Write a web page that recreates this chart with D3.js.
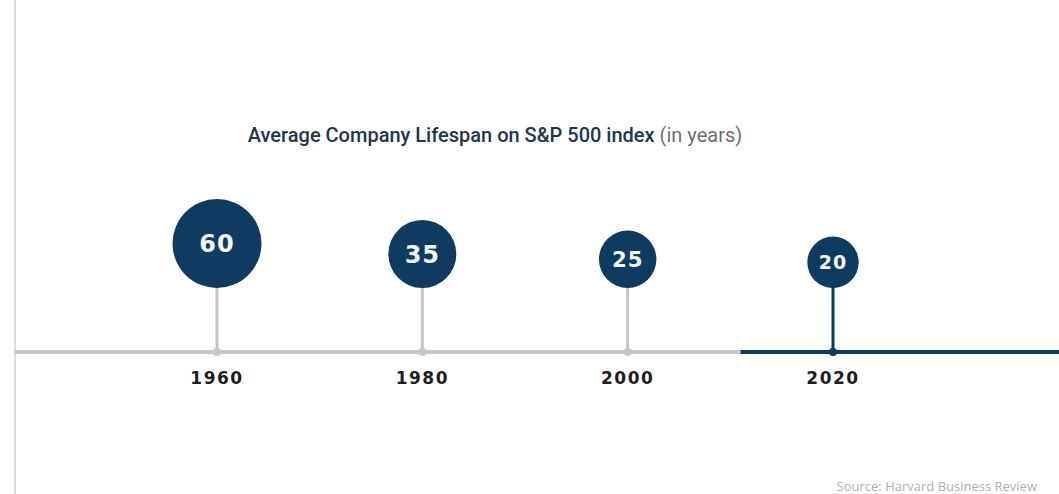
<!DOCTYPE html>
<html>
<head>
<meta charset="utf-8">
<script src="https://cdn.jsdelivr.net/npm/d3@7"></script>
<style>
  body { margin: 0; background: #fff; }
  svg { display: block; }
</style>
</head>
<body>
<script>
(function(){

//chart data
var years = [1960, 1980, 2000, 2020];
var lifespans = [60, 35, 25, 20];
var highlightFrom = 2011; //where the timeline turns dark
var titleMain = "Average Company Lifespan on S&P 500 index";
var titleUnit = "(in years)";
var sourceText = "Source: Harvard Business Review";

window.onload = drawChart();

function drawChart(){

    var width = 1059,
        height = 494;

    var navy = "#0e3b5f",
        grey = "#c6c6c6";

    var svg = d3.select("body")
        .append("svg")
        .attr("width", width)
        .attr("height", height);

    //scales
    var x = d3.scaleLinear()
        .domain([1960, 2020])
        .range([217, 833]);

    var r = d3.scaleSqrt()
        .domain([0, 60])
        .range([0, 44.5]);

    var lineY = 352,
        baseY = 288, //bottom of the bubbles
        left = 15;

    //thin frame line on the left
    svg.append("line")
        .attr("x1", left).attr("x2", left)
        .attr("y1", 0).attr("y2", height)
        .attr("stroke", "#d2d2d2")
        .attr("stroke-width", 1.5);

    //title
    var title = svg.append("text")
        .attr("x", 495)
        .attr("y", 142)
        .attr("text-anchor", "middle")
        .style("font-family", "Roboto, 'Open Sans', sans-serif")
        .style("font-size", "20px");
    title.append("tspan")
        .attr("fill", "#22364a")
        .style("font-weight", 500)
        .text(titleMain + " ");
    title.append("tspan")
        .attr("fill", "#6f6f6f")
        .text(titleUnit);

    //timeline
    svg.append("line")
        .attr("x1", left).attr("x2", x(highlightFrom))
        .attr("y1", lineY).attr("y2", lineY)
        .attr("stroke", grey)
        .attr("stroke-width", 4);
    svg.append("line")
        .attr("x1", x(highlightFrom)).attr("x2", width)
        .attr("y1", lineY).attr("y2", lineY)
        .attr("stroke", navy)
        .attr("stroke-width", 4);

    var data = years.map(function(y, i){ return {year: y, value: lifespans[i]}; });

    var pins = svg.selectAll(".pin")
        .data(data)
        .enter()
        .append("g")
        .attr("class", "pin");

    function pinColor(d){ return d.year >= highlightFrom ? navy : grey; }

    //stems
    pins.append("line")
        .attr("x1", function(d){ return x(d.year); })
        .attr("x2", function(d){ return x(d.year); })
        .attr("y1", baseY - 2)
        .attr("y2", lineY)
        .attr("stroke", pinColor)
        .attr("stroke-width", 3);

    pins.append("circle")
        .attr("cx", function(d){ return x(d.year); })
        .attr("cy", lineY)
        .attr("r", 4)
        .attr("fill", pinColor);

    //bubbles
    pins.append("circle")
        .attr("cx", function(d){ return x(d.year); })
        .attr("cy", function(d){ return baseY - r(d.value); })
        .attr("r", function(d){ return r(d.value); })
        .attr("fill", navy);

    pins.append("text")
        .attr("x", function(d){ return x(d.year); })
        .attr("y", function(d){ return baseY - r(d.value); })
        .attr("dy", "0.36em")
        .attr("text-anchor", "middle")
        .attr("fill", "#f4f6f8")
        .style("font-family", "'DejaVu Sans', sans-serif")
        .style("font-weight", "bold")
        .style("letter-spacing", "1px")
        .style("font-size", function(d){ return Math.min(24, r(d.value) * 0.74) + "px"; })
        .text(function(d){ return d.value; });

    //year labels
    pins.append("text")
        .attr("x", function(d){ return x(d.year); })
        .attr("y", 384)
        .attr("text-anchor", "middle")
        .attr("fill", "#1e1e1e")
        .style("font-family", "'DejaVu Sans', sans-serif")
        .style("font-weight", "bold")
        .style("font-size", "17px")
        .style("letter-spacing", "1.5px")
        .text(function(d){ return d.year; });

    //source
    svg.append("text")
        .attr("x", 1037)
        .attr("y", 491)
        .attr("text-anchor", "end")
        .attr("fill", "#b0b0b0")
        .style("font-family", "'Open Sans', sans-serif")
        .style("font-size", "13px")
        .text(sourceText);
};

})();
</script>
</body>
</html>
